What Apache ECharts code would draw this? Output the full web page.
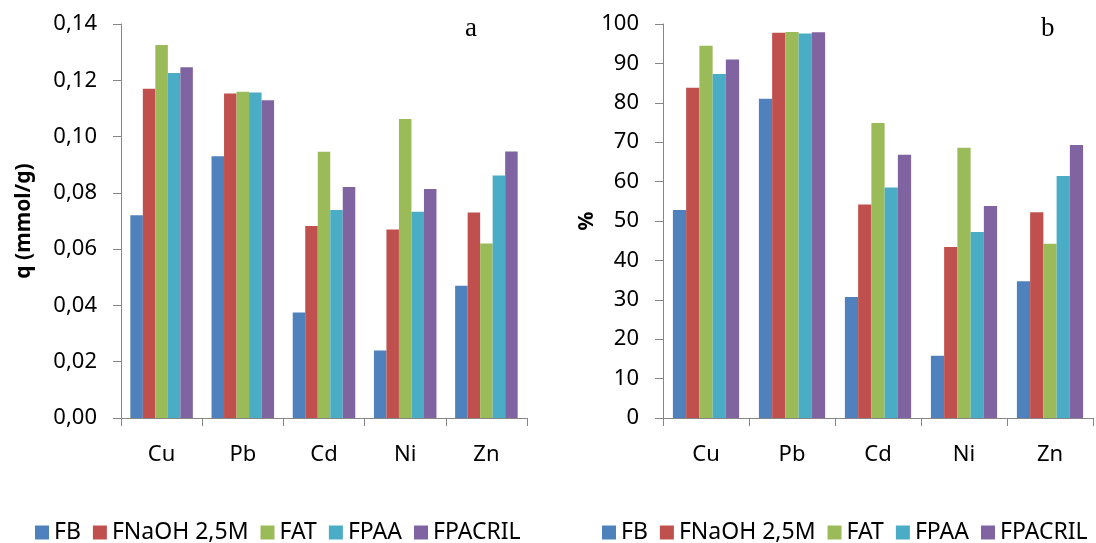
<!DOCTYPE html>
<html>
<head>
<meta charset="utf-8">
<script src="https://cdn.jsdelivr.net/npm/echarts@6/dist/echarts.min.js"></script>
<style>
  html, body { margin: 0; padding: 0; background: #fff; }
  #chart { width: 1096px; height: 543px; }
</style>
</head>
<body>
<div id="chart"></div>
<script>
// Metals and adsorbent materials
const metals = ['Cu', 'Pb', 'Cd', 'Ni', 'Zn'];
const materials = ['FB', 'FNaOH 2,5M', 'FAT', 'FPAA', 'FPACRIL'];
const colors = ['#4F81BD', '#C0504D', '#9BBB59', '#4BACC6', '#8064A2'];

// (a) adsorbed amount q, mmol/g — one array per material, in metal order
const qFB      = [0.072, 0.093, 0.0375, 0.024, 0.047];
const qFNaOH   = [0.117, 0.1153, 0.0682, 0.067, 0.073];
const qFAT     = [0.1325, 0.1159, 0.0946, 0.1062, 0.062];
const qFPAA    = [0.1226, 0.1157, 0.0739, 0.0733, 0.0862];
const qFPACRIL = [0.1246, 0.1129, 0.0821, 0.0814, 0.0947];

// (b) removal, %
const pFB      = [52.8, 81.0, 30.7, 15.8, 34.7];
const pFNaOH   = [83.8, 97.8, 54.2, 43.4, 52.2];
const pFAT     = [94.5, 98.0, 74.9, 68.6, 44.2];
const pFPAA    = [87.3, 97.6, 58.5, 47.2, 61.4];
const pFPACRIL = [91.0, 97.9, 66.8, 53.8, 69.3];

// Tick labels
const qTicks = ['0,00', '0,02', '0,04', '0,06', '0,08', '0,10', '0,12', '0,14'];
const pTicks = ['0', '10', '20', '30', '40', '50', '60', '70', '80', '90', '100'];

const qSeries = [qFB, qFNaOH, qFAT, qFPAA, qFPACRIL];
const pSeries = [pFB, pFNaOH, pFAT, pFPAA, pFPACRIL];

const FONT = '"Noto Sans", "Open Sans", sans-serif';
const AXIS_GRAY = '#868686';

function categoryAxis(gridIndex) {
  return {
    type: 'category',
    gridIndex: gridIndex,
    data: metals,
    boundaryGap: true,
    axisLine: { lineStyle: { color: AXIS_GRAY, width: 1 } },
    axisTick: { show: true, length: 8, alignWithLabel: false, lineStyle: { color: AXIS_GRAY } },
    axisLabel: { color: '#000', fontFamily: FONT, fontSize: 22, margin: 26 },
    splitLine: { show: false }
  };
}

function valueAxis(gridIndex, max, interval, ticks, name, nameGap) {
  return {
    type: 'value',
    gridIndex: gridIndex,
    min: 0,
    max: max,
    interval: interval,
    name: name,
    nameLocation: 'middle',
    nameGap: nameGap,
    nameTextStyle: { color: '#000', fontFamily: FONT, fontSize: 21, fontWeight: 'bold' },
    axisLine: { show: true, lineStyle: { color: AXIS_GRAY, width: 1 } },
    axisTick: { show: true, length: 8, lineStyle: { color: AXIS_GRAY } },
    axisLabel: {
      color: '#000', fontFamily: FONT, fontSize: 22, margin: 24,
      formatter: function (v) { return ticks[Math.round(v / interval)]; }
    },
    splitLine: { show: false }
  };
}

const series = [];
materials.forEach(function (m, i) {
  series.push({
    name: m, type: 'bar', xAxisIndex: 0, yAxisIndex: 0,
    data: qSeries[i], barGap: '0%', barCategoryGap: '23%',
    itemStyle: { color: colors[i] }
  });
});
materials.forEach(function (m, i) {
  series.push({
    name: m, type: 'bar', xAxisIndex: 1, yAxisIndex: 1,
    data: pSeries[i], barGap: '0%', barCategoryGap: '23%',
    itemStyle: { color: colors[i] }
  });
});

function legendAt(left) {
  return {
    left: left, top: 516,
    orient: 'horizontal',
    data: materials,
    icon: 'rect',
    itemWidth: 14, itemHeight: 14,
    itemGap: 12,
    selectedMode: false,
    textStyle: { color: '#000', fontFamily: FONT, fontSize: 23 }
  };
}

const option = {
  animation: false,
  backgroundColor: '#fff',
  title: [
    { text: 'a', left: 460, top: 10,
      textStyle: { fontFamily: '"Liberation Serif", serif', fontWeight: 'normal', fontSize: 27, color: '#000' } },
    { text: 'b', left: 1036, top: 10,
      textStyle: { fontFamily: '"Liberation Serif", serif', fontWeight: 'normal', fontSize: 27, color: '#000' } }
  ],
  grid: [
    { left: 121, top: 24, width: 406, height: 394, containLabel: false },
    { left: 663, top: 24, width: 430, height: 394, containLabel: false }
  ],
  xAxis: [categoryAxis(0), categoryAxis(1)],
  yAxis: [
    valueAxis(0, 0.14, 0.02, qTicks, 'q (mmol/g)', 86),
    valueAxis(1, 100, 10, pTicks, '%', 62)
  ],
  legend: [legendAt(30), legendAt(597)],
  series: series
};

const chart = echarts.init(document.getElementById('chart'), null, { renderer: 'canvas' });
chart.setOption(option);
</script>
</body>
</html>
